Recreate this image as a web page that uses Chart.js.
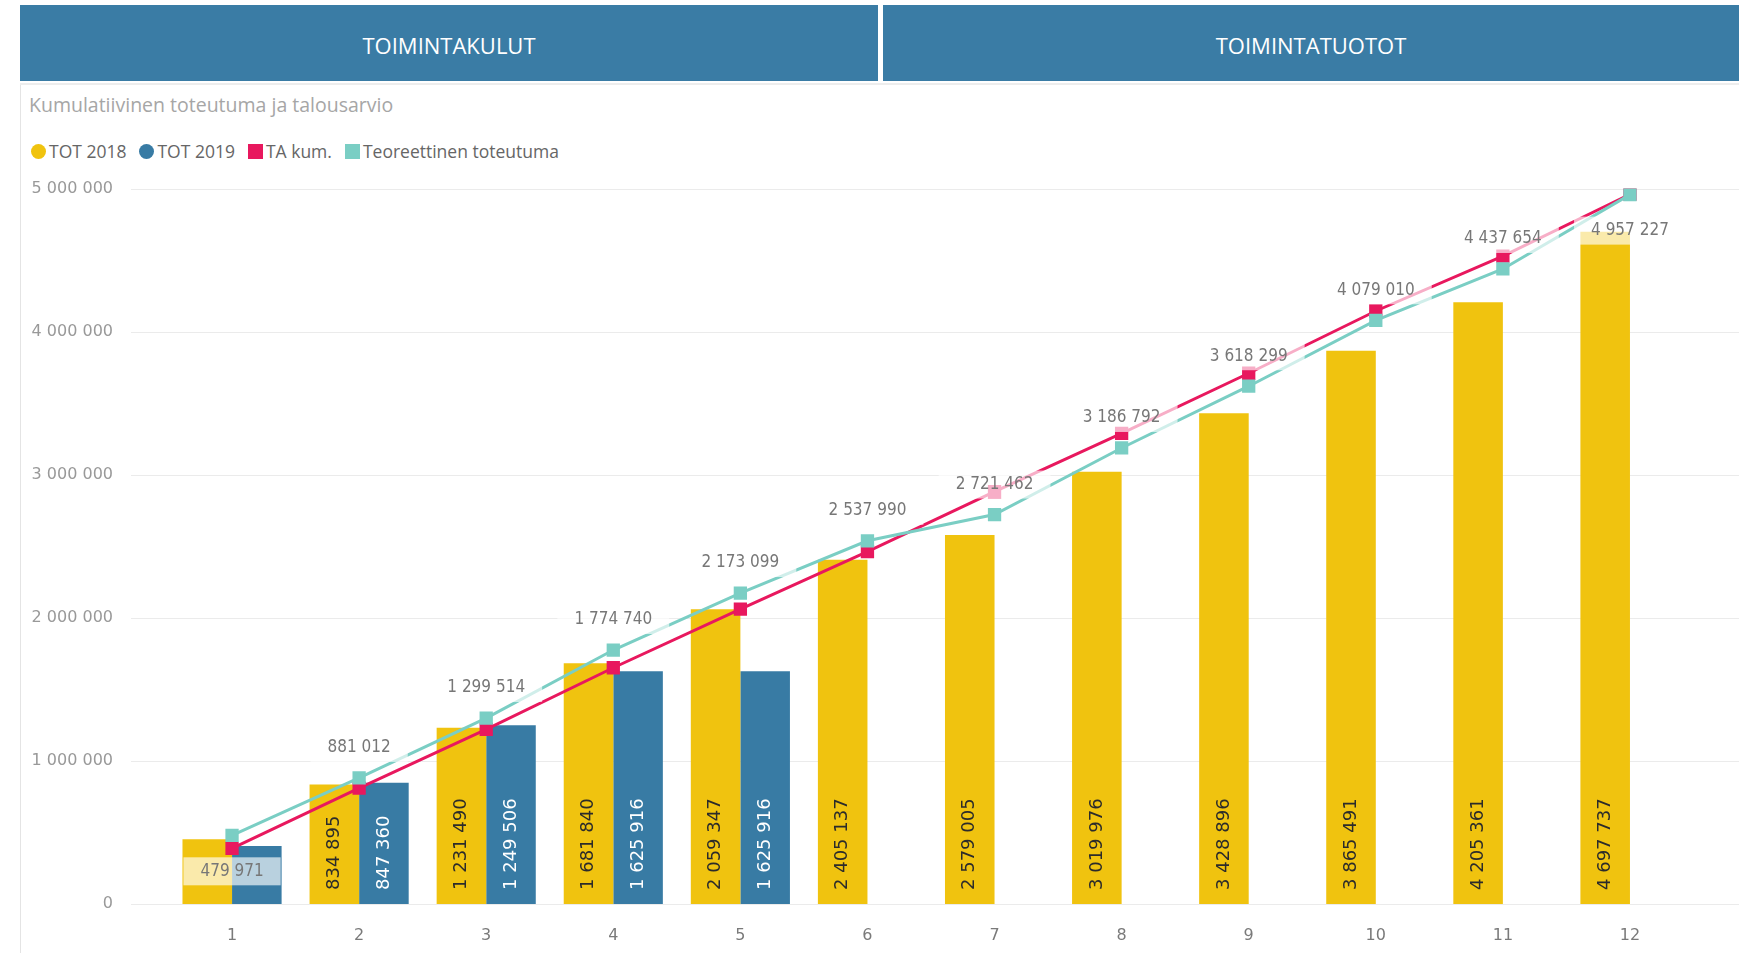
<!DOCTYPE html>
<html>
<head>
<meta charset="utf-8">
<title>Kumulatiivinen toteutuma ja talousarvio</title>
<script src="https://cdn.jsdelivr.net/npm/chart.js@4/dist/chart.umd.min.js"></script>
<style>
  html, body {
    margin: 0;
    padding: 0;
    width: 1739px;
    height: 953px;
    overflow: hidden;
    background: #fff;
    font-family: "Open Sans", sans-serif;
  }
  .tab {
    position: absolute;
    top: 5px;
    height: 76px;
    box-sizing: border-box;
    padding-top: 4px;
    background: #3a7ca5;
    color: #fff;
    font-size: 22px;
    display: flex;
    align-items: center;
    justify-content: center;
  }
  #tab-kulut { left: 20px; width: 858px; }
  #tab-tuotot { left: 883px; width: 856px; }
  #rule { position: absolute; left: 20px; right: 0; top: 83px; height: 2px; background: #ededed; }
  #panel-edge { position: absolute; left: 20px; top: 85px; bottom: 0; width: 1px; background: #e4e4e4; }
  #title { position: absolute; left: 29px; top: 91px; font-size: 19.5px; color: #a6a6a6; }
  #legend {
    position: absolute;
    left: 31px;
    top: 141px;
    height: 20px;
    display: flex;
    align-items: center;
    font-size: 17.5px;
    color: #666;
  }
  #legend .item { display: flex; align-items: center; margin-right: 13px; }
  #legend .mark { width: 15px; height: 15px; margin-right: 3px; }
  #legend .mark.circle { border-radius: 50%; }
  #chart-wrap { position: absolute; left: 20px; top: 170px; width: 1719px; height: 783px; }
</style>
</head>
<body>
<div class="tab" id="tab-kulut">TOIMINTAKULUT</div>
<div class="tab" id="tab-tuotot">TOIMINTATUOTOT</div>
<div id="rule"></div>
<div id="panel-edge"></div>
<div id="title">Kumulatiivinen toteutuma ja talousarvio</div>
<div id="legend"></div>
<div id="chart-wrap"><canvas id="kumulatiivinen-chart"></canvas></div>

<script>
  // Kuukaudet ja kumulatiiviset arvot (luettu kuvasta).
  var months = ['1', '2', '3', '4', '5', '6', '7', '8', '9', '10', '11', '12'];
  var tot2018 = [452000, 834895, 1231490, 1681840, 2059347, 2405137, 2579005, 3019976, 3428896, 3865491, 4205361, 4697737];
  var tot2019 = [405000, 847360, 1249506, 1625916, 1625916, null, null, null, null, null, null, null];
  var taKum = [389000, 810000, 1221000, 1651000, 2061000, 2462000, 2881000, 3289000, 3709000, 4144000, 4528000, 4960000];
  var teoreettinen = [479971, 881012, 1299514, 1774740, 2173099, 2537990, 2721462, 3186792, 3618299, 4079010, 4437654, 4957227];
  var yTicks = [0, 1000000, 2000000, 3000000, 4000000, 5000000];

  var YELLOW = '#f0c30f';
  var BLUE = '#387ba4';
  var PINK = '#e8185e';
  var TEAL = '#7acec4';

  function fmt(v) {
    return Math.round(v).toString().replace(/\B(?=(\d{3})+(?!\d))/g, ' ');
  }

  // Vaakaviivat ulottuvat akselin alueen ulkopuolelle kuten alkuperäisessä.
  var gridLines = {
    id: 'gridLines',
    beforeDatasetsDraw: function (chart, args, opts) {
      var ctx = chart.ctx;
      var y = chart.scales.y;
      ctx.save();
      ctx.strokeStyle = opts.color;
      ctx.lineWidth = 1;
      y.ticks.forEach(function (t) {
        var py = Math.round(y.getPixelForValue(t.value)) + 0.5;
        ctx.beginPath();
        ctx.moveTo(opts.left, py);
        ctx.lineTo(chart.width, py);
        ctx.stroke();
      });
      ctx.restore();
    }
  };

  var valueLabels = {
    id: 'valueLabels',
    afterDatasetsDraw: function (chart, args, opts) {
      var ctx = chart.ctx;
      var base = chart.scales.y.getPixelForValue(0);

      // Pylväiden arvot pystyyn pylvään sisälle.
      [0, 1].forEach(function (di) {
        var ds = chart.data.datasets[di];
        chart.getDatasetMeta(di).data.forEach(function (bar, i) {
          var v = ds.data[i];
          if (v === null || v === undefined) {
            return;
          }
          var text = fmt(v);
          ctx.save();
          ctx.font = opts.barFont;
          var w = ctx.measureText(text).width;
          if (w + opts.barInset * 2 > base - bar.y) {
            ctx.restore();
            return;
          }
          ctx.translate(bar.x, base - opts.barInset);
          ctx.rotate(-Math.PI / 2);
          ctx.textAlign = 'left';
          ctx.textBaseline = 'middle';
          ctx.fillStyle = di === 0 ? '#2b2b2b' : '#ffffff';
          ctx.fillText(text, 0, 0);
          ctx.restore();
        });
      });

      // Teoreettinen toteutuma -sarjan arvot.
      var tds = chart.data.datasets[3];
      chart.getDatasetMeta(3).data.forEach(function (pt, i) {
        var text = fmt(tds.data[i]);
        var below = opts.below.indexOf(i) !== -1;
        var cy = below ? pt.y + opts.offsetBelow : pt.y - opts.offsetAbove;
        ctx.save();
        ctx.font = opts.lineFont;
        var w = ctx.measureText(text).width;
        ctx.fillStyle = 'rgba(255, 255, 255, 0.65)';
        ctx.fillRect(pt.x - w / 2 - opts.padX, cy - opts.boxH / 2, w + opts.padX * 2, opts.boxH);
        ctx.fillStyle = '#777';
        ctx.textAlign = 'center';
        ctx.textBaseline = 'middle';
        ctx.fillText(text, pt.x, cy);
        ctx.restore();
      });
    }
  };

  var canvas = document.getElementById('kumulatiivinen-chart');

  var chart = new Chart(canvas, {
    type: 'bar',
    data: {
      labels: months,
      datasets: [
        {
          label: 'TOT 2018',
          data: tot2018,
          backgroundColor: YELLOW,
          order: 2,
          categoryPercentage: 0.78,
          barPercentage: 1.0
        },
        {
          label: 'TOT 2019',
          data: tot2019,
          backgroundColor: BLUE,
          order: 2,
          categoryPercentage: 0.78,
          barPercentage: 1.0
        },
        {
          type: 'line',
          label: 'TA kum.',
          data: taKum,
          borderColor: PINK,
          backgroundColor: PINK,
          borderWidth: 3,
          pointStyle: 'rect',
          pointRadius: 9.4,
          pointBorderWidth: 0,
          tension: 0,
          order: 1
        },
        {
          type: 'line',
          label: 'Teoreettinen toteutuma',
          data: teoreettinen,
          borderColor: TEAL,
          backgroundColor: TEAL,
          borderWidth: 3,
          pointStyle: 'rect',
          pointRadius: 9.4,
          pointBorderWidth: 0,
          tension: 0,
          order: 0
        }
      ]
    },
    options: {
      responsive: true,
      maintainAspectRatio: false,
      animation: false,
      events: [],
      layout: {
        padding: { left: 0, right: 45.5, top: 18.5, bottom: 0 }
      },
      scales: {
        x: {
          type: 'category',
          offset: true,
          grid: { display: false, drawTicks: false },
          border: { display: false },
          ticks: {
            color: '#7a7a7a',
            padding: 22,
            font: { family: '"DejaVu Sans"', size: 16 }
          },
          afterFit: function (scale) { scale.height = 49; }
        },
        y: {
          min: 0,
          max: 5000000,
          grid: { display: false, drawTicks: false },
          border: { display: false },
          afterBuildTicks: function (scale) {
            scale.ticks = yTicks.map(function (v) { return { value: v }; });
          },
          ticks: {
            color: '#999',
            padding: 55.5,
            font: { family: '"DejaVu Sans"', size: 16 },
            callback: function (v) { return fmt(v); }
          },
          afterFit: function (scale) {
            // Tick padding would otherwise also push the plot area down from the top and bottom.
            scale.width = 148.5;
            scale.paddingTop = 10;
            scale.paddingBottom = 10;
          }
        }
      },
      plugins: {
        legend: { display: false },
        tooltip: { enabled: false },
        gridLines: { left: 111, color: '#ebebeb' },
        valueLabels: {
          barFont: '18px "DejaVu Sans"',
          barInset: 14,
          lineFont: '17px "DejaVu Sans Condensed", "DejaVu Sans"',
          offsetAbove: 30,
          offsetBelow: 36,
          padX: 17,
          boxH: 28,
          below: [0, 11]
        }
      }
    },
    plugins: [gridLines, valueLabels]
  });

  // Selite sarjojen tiedoista.
  var legend = document.getElementById('legend');
  chart.data.datasets.forEach(function (ds) {
    var item = document.createElement('div');
    item.className = 'item';
    var mark = document.createElement('span');
    mark.className = 'mark' + (ds.type === 'line' ? '' : ' circle');
    mark.style.background = ds.type === 'line' ? ds.borderColor : ds.backgroundColor;
    var txt = document.createElement('span');
    txt.textContent = ds.label;
    item.appendChild(mark);
    item.appendChild(txt);
    legend.appendChild(item);
  });
</script>
</body>
</html>
